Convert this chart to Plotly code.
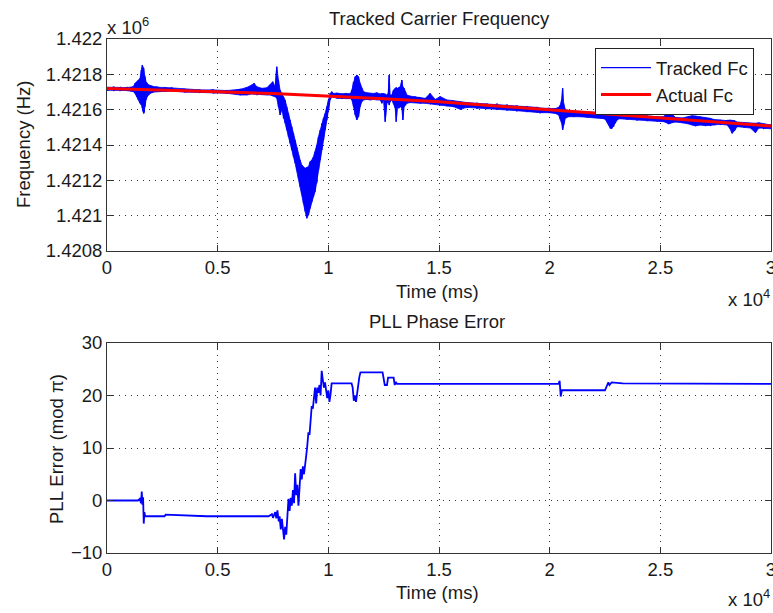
import plotly.graph_objects as go

# ---------------- data ----------------
# Actual carrier frequency (Hz) vs time (ms)
actual_t = [0, 2500, 5000, 7500, 10000, 12500, 15000, 17500, 20000, 22500, 25000, 27500, 30000]
actual_fc = [1421720, 1421712, 1421702, 1421691, 1421678, 1421662, 1421645, 1421622,
             1421600, 1421578, 1421555, 1421532, 1421507]

# Tracked carrier frequency: time (ms) with upper / lower excursion of the noisy estimate (Hz)
tracked_t = [
    0, 300, 600, 900, 1190, 1266, 1341, 1417, 1492, 1552, 1597, 1628, 1658, 1688, 1718, 1763,
    1823, 1884, 1944, 2034, 2125, 2245, 2396, 2622, 2923, 3500, 4200, 4800, 5400, 6014, 6316,
    6542, 6647, 6768, 6994, 7220, 7370, 7490,
    7595, 7671, 7746, 7821, 7897, 7972, 8047, 8123, 8198, 8273, 8349, 8424, 8499, 8575, 8650,
    8726, 8801, 8876, 8952, 9027, 9102, 9178, 9253, 9328, 9404, 9479, 9554, 9630, 9705, 9780,
    9856, 9931, 10006, 10082, 10157, 10232,
    10400, 10600, 10800, 11000, 11061, 11137, 11212, 11288, 11363, 11438, 11513, 11589, 11739,
    11890, 12040, 12191, 12342, 12417, 12492, 12568, 12644, 12704, 12749, 12794, 12870, 12945,
    13020, 13066, 13126, 13186, 13246, 13321, 13367, 13427, 13487, 13547, 13698, 13924, 14150,
    14376, 14603, 14829, 15055, 15356, 15658, 15960, 16261, 16713, 17165, 17617, 18069, 18521,
    18974, 19426,
    19576, 19953, 20254, 20405, 20480, 20540, 20586, 20631, 20706, 20857, 21083, 21385, 21686,
    21988, 22289, 22440, 22515, 22591, 22666, 22741, 22816, 22892, 22967, 23043, 23118, 23495,
    23947, 24399, 24851, 25152, 25273, 25378, 25453, 25529, 25680, 25981, 26282, 26433, 26584,
    26810, 27036, 27262, 27413, 27714, 28016, 28137, 28242, 28348, 28468, 28770, 29071, 29297,
    29448, 29674, 30000,
]
tracked_hi = [
    1421727, 1421728, 1421726, 1421725, 1421730, 1421749, 1421758, 1421768, 1421777, 1421825,
    1421853, 1421843, 1421834, 1421806, 1421787, 1421758, 1421749, 1421740, 1421738, 1421734,
    1421730, 1421730, 1421726, 1421726, 1421724, 1421716, 1421712, 1421712, 1421708, 1421715,
    1421726, 1421740, 1421749, 1421730, 1421721, 1421724, 1421740, 1421758,
    1421730, 1421843, 1421768, 1421711, 1421692, 1421673, 1421655, 1421617, 1421579, 1421541,
    1421504, 1421466, 1421428, 1421387, 1421343, 1421315, 1421287, 1421274, 1421268, 1421274,
    1421277, 1421306, 1421315, 1421334, 1421362, 1421400, 1421447, 1421485, 1421523, 1421551,
    1421579, 1421617, 1421655, 1421692, 1421702, 1421692,
    1421694, 1421690, 1421692, 1421690, 1421711, 1421758, 1421787, 1421796, 1421787, 1421749,
    1421721, 1421702, 1421696, 1421692, 1421692, 1421696, 1421689, 1421692, 1421692, 1421689,
    1421683, 1421692, 1421796, 1421683, 1421683, 1421711, 1421721, 1421726, 1421721, 1421726,
    1421730, 1421768, 1421730, 1421721, 1421702, 1421683, 1421677, 1421674, 1421670, 1421664,
    1421692, 1421658, 1421674, 1421655, 1421651, 1421645, 1421640, 1421636, 1421632, 1421632,
    1421626, 1421621, 1421617, 1421613,
    1421609, 1421608, 1421606, 1421613, 1421626, 1421655, 1421721, 1421636, 1421602, 1421594,
    1421592, 1421589, 1421587, 1421585, 1421583, 1421589, 1421594, 1421608, 1421617, 1421636,
    1421626, 1421613, 1421602, 1421583, 1421575, 1421574, 1421568, 1421564, 1421560, 1421560,
    1421579, 1421617, 1421589, 1421575, 1421557, 1421553, 1421560, 1421566, 1421564, 1421560,
    1421555, 1421551, 1421545, 1421541, 1421538, 1421541, 1421541, 1421538, 1421530, 1421526,
    1421523, 1421523, 1421526, 1421519, 1421513,
]
tracked_lo = [
    1421710, 1421708, 1421709, 1421708, 1421702, 1421692, 1421674, 1421655, 1421636, 1421626,
    1421608, 1421589, 1421579, 1421589, 1421617, 1421655, 1421674, 1421683, 1421692, 1421696,
    1421700, 1421702, 1421704, 1421704, 1421706, 1421700, 1421697, 1421694, 1421693, 1421683,
    1421683, 1421689, 1421687, 1421683, 1421685, 1421683, 1421683, 1421677,
    1421673, 1421664, 1421617, 1421570, 1421598, 1421551, 1421523, 1421485, 1421447, 1421409,
    1421372, 1421334, 1421296, 1421258, 1421211, 1421164, 1421126, 1421070, 1421023, 1420985,
    1421004, 1421041, 1421079, 1421107, 1421136, 1421183, 1421258, 1421315, 1421372, 1421428,
    1421485, 1421541, 1421598, 1421655, 1421673, 1421670,
    1421664, 1421662, 1421664, 1421662, 1421655, 1421617, 1421570, 1421542, 1421560, 1421617,
    1421645, 1421655, 1421658, 1421655, 1421658, 1421655, 1421655, 1421636, 1421655, 1421532,
    1421636, 1421645, 1421626, 1421645, 1421655, 1421636, 1421608, 1421532, 1421617, 1421608,
    1421617, 1421608, 1421542, 1421617, 1421626, 1421636, 1421640, 1421640, 1421636, 1421636,
    1421632, 1421632, 1421626, 1421621, 1421617, 1421602, 1421613, 1421608, 1421606, 1421602,
    1421598, 1421594, 1421590, 1421585,
    1421583, 1421583, 1421579, 1421570, 1421545, 1421523, 1421485, 1421513, 1421551, 1421560,
    1421560, 1421560, 1421557, 1421555, 1421551, 1421549, 1421545, 1421532, 1421513, 1421494,
    1421494, 1421504, 1421523, 1421541, 1421549, 1421547, 1421541, 1421538, 1421534, 1421532,
    1421526, 1421519, 1421523, 1421526, 1421530, 1421526, 1421519, 1421513, 1421508, 1421513,
    1421509, 1421508, 1421513, 1421517, 1421513, 1421494, 1421466, 1421481, 1421504, 1421500,
    1421496, 1421470, 1421496, 1421494, 1421492,
]

# PLL phase error (mod pi) vs time (ms)
phase_t = [
    0, 1400, 1480, 1540, 1570, 1600, 1630, 1660, 1690, 1720, 2600, 2650, 4500, 7300, 7450,
    7500, 7600, 7650, 7700, 7760, 7800, 7850, 7900, 7950, 8000, 8050, 8100, 8150, 8200, 8250,
    8300, 8350, 8400, 8450, 8500, 8550, 8600, 8650, 8700, 8750, 8800, 8850, 8900, 8950, 9000,
    9050, 9100, 9150, 9200, 9250, 9300, 9350, 9400, 9450, 9500, 9550, 9600, 9650, 9700, 9750,
    9800, 9850, 9900, 9950, 10000, 10050, 10100, 10150, 11050, 11100, 11150, 11200, 11250,
    11300, 11400, 11450, 12450, 12550, 12650, 12700, 12950, 13000, 13050, 13100, 20400, 20450,
    20500, 20550, 22500, 22600, 22650, 22700, 22800, 23300, 30000,
]
phase_err = [
    0, 0, 0.3, -0.5, 1.7, -0.8, 0.6, -4.4, -2.2, -3.0, -3.0, -2.7, -3.0, -3.0, -2.6,
    -3.3, -2.2, -3.4, -1.9, -4.0, -3.0, -5.5, -3.5, -6.0, -7.4, -5.0, -6.5, -3.0, 0.3, -2.0,
    0.5, -1.0, 2.0, -0.5, 5.2, 1.0, 3.0, -1.0, 2.0, 6.0, 4.0, 6.5, 5.0, 7.5, 8.5,
    10.5, 13.0, 12.5, 16.5, 18.0, 17.5, 19.5, 21.5, 18.5, 21.5, 20.5, 22.0, 20.0, 24.7, 23.0,
    21.5, 22.5, 20.7, 19.5, 21.0, 18.8, 20.2, 22.3, 22.3, 21.5, 19.0, 20.0, 18.8,
    20.5, 23.5, 24.4, 24.4, 22.0, 22.0, 23.4, 23.4, 22.0, 22.6, 22.2, 22.2, 22.8,
    19.8, 21.0, 21.0, 22.0, 22.5, 22.0, 22.5, 22.3, 22.2,
]

time_ticks = [0, 5000, 10000, 15000, 20000, 25000, 30000]
time_labels = ["0", "0.5", "1", "1.5", "2", "2.5", "3"]
freq_ticks = [1420800, 1421000, 1421200, 1421400, 1421600, 1421800, 1422000]
freq_labels = ["1.4208", "1.421", "1.4212", "1.4214", "1.4216", "1.4218", "1.422"]
err_ticks = [-10, 0, 10, 20, 30]

# ---------------- figure ----------------
W, H = 773, 613
FONT = "Liberation Sans, Arial, Helvetica, sans-serif"
TXT = "#1a1a1a"
FS = 18.5
BLUE = "#0000ff"
RED = "#ff0000"


def px(x):
    return x / W


def py(y):
    return 1 - y / H


# spread of the tracked estimate: filled band between its excursions ...
band_t = tracked_t + tracked_t[::-1]
band_f = tracked_hi + tracked_lo[::-1]
# ... overlaid with a saw-tooth trace between the same excursions
zig_t, zig_f = [], []
for t, hi, lo in zip(tracked_t, tracked_hi, tracked_lo):
    zig_t += [t, t]
    zig_f += [hi, lo]

fig = go.Figure()
fig.add_trace(go.Scatter(x=band_t, y=band_f, mode="lines", fill="toself", fillcolor=BLUE,
                         line=dict(color=BLUE, width=0.8), showlegend=False,
                         hoverinfo="skip", xaxis="x", yaxis="y"))
fig.add_trace(go.Scatter(x=zig_t, y=zig_f, mode="lines", name="Tracked Fc",
                         line=dict(color=BLUE, width=1.3), xaxis="x", yaxis="y"))
fig.add_trace(go.Scatter(x=actual_t, y=actual_fc, mode="lines", name="Actual Fc",
                         line=dict(color=RED, width=3), xaxis="x", yaxis="y"))
fig.add_trace(go.Scatter(x=phase_t, y=phase_err, mode="lines", showlegend=False,
                         line=dict(color=BLUE, width=1.8), xaxis="x2", yaxis="y2"))

axis_common = dict(
    showline=True, linecolor="#333333", linewidth=1, mirror="allticks",
    ticks="inside", ticklen=6, tickcolor="#333333", tickwidth=1,
    showgrid=True, gridcolor="#333333", gridwidth=1, griddash="1.3px,4.7px",
    zeroline=False, automargin=False, ticklabeloverflow="allow",
    tickfont=dict(family=FONT, size=FS, color=TXT),
)

top_dom = [py(251), py(39)]
bot_dom = [py(553), py(343)]
x_dom = [px(107), px(771)]

fig.update_layout(
    width=W, height=H, template="none",
    margin=dict(l=0, r=0, t=0, b=0),
    paper_bgcolor="white", plot_bgcolor="white",
    font=dict(family=FONT, size=FS, color=TXT),
    xaxis=dict(domain=x_dom, range=[0, 30000], tickvals=time_ticks, ticktext=time_labels,
               anchor="y", **axis_common),
    yaxis=dict(domain=top_dom, range=[1420800, 1422000], tickvals=freq_ticks,
               ticktext=freq_labels, anchor="x", **axis_common),
    xaxis2=dict(domain=x_dom, range=[0, 30000], tickvals=time_ticks, ticktext=time_labels,
                anchor="y2", **axis_common),
    yaxis2=dict(domain=bot_dom, range=[-10, 30], tickvals=err_ticks, anchor="x2",
                **axis_common),
    legend=dict(x=px(595), y=py(48), xanchor="left", yanchor="top",
                bgcolor="white", bordercolor="#222222", borderwidth=1,
                font=dict(family=FONT, size=FS, color=TXT),
                itemwidth=50, tracegroupgap=0),
    showlegend=True,
)


def label(text, x, y, xanchor="center", **kw):
    fig.add_annotation(text=text, x=px(x), y=py(y), xref="paper", yref="paper",
                       xanchor=xanchor, yanchor="middle", showarrow=False,
                       font=dict(family=FONT, size=FS, color=TXT), **kw)


label("Tracked Carrier Frequency", 439, 19)
label("PLL Phase Error", 437, 321)
label("Time (ms)", 437, 292)
label("Time (ms)", 437, 592)
label("Frequency (Hz)", 24, 145, textangle=-90)
label("PLL Error (mod π)", 56, 449, textangle=-90)
label("x 10<sup>6</sup>", 105, 26, xanchor="left")
label("x 10<sup>4</sup>", 772, 298, xanchor="right")
label("x 10<sup>4</sup>", 772, 598, xanchor="right")

fig.write_html("out.html")
